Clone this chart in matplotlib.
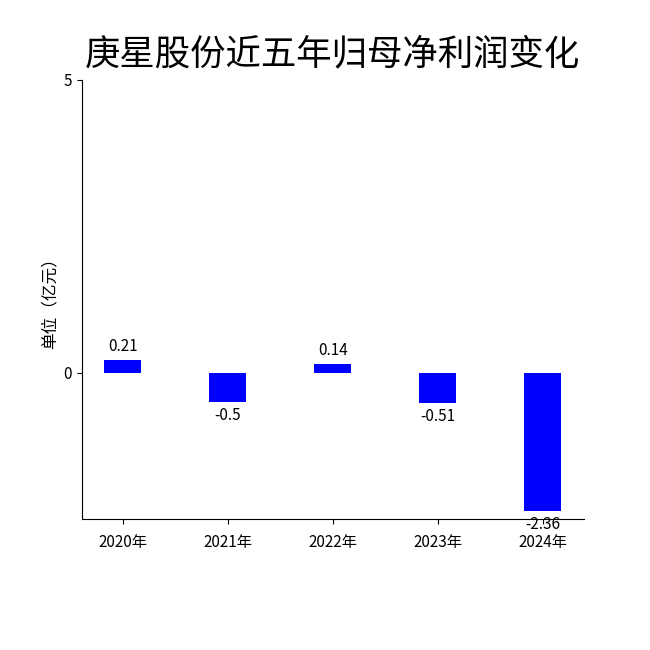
import matplotlib as mpl
mpl.use("Agg")
import matplotlib.pyplot as plt

plt.rcParams['font.family'] = ['Noto Sans CJK SC', 'DejaVu Sans']
plt.rcParams['axes.unicode_minus'] = False

years = ["2020年", "2021年", "2022年", "2023年", "2024年"]
profit = [0.21, -0.5, 0.14, -0.51, -2.36]

fig = plt.figure(figsize=(6.5, 6.5), dpi=100)
ax = fig.add_axes([0.126, 0.2015, 0.772, 0.6755])

x = range(len(years))
bars = ax.bar(x, profit, width=0.35, color="blue")

for b, v in zip(bars, profit):
    if v >= 0:
        ax.annotate(str(v), (b.get_x() + b.get_width() / 2, v), xytext=(0, 4),
                    textcoords="offset points", ha="center", va="bottom", fontsize=11)
    else:
        ax.annotate(str(v), (b.get_x() + b.get_width() / 2, v), xytext=(0, -4),
                    textcoords="offset points", ha="center", va="top", fontsize=11)

ax.set_xticks(list(x))
ax.set_xticklabels(years, fontsize=11)
ax.tick_params(axis='x', pad=7)
ax.set_yticks([0, 5])
ax.set_yticklabels(["0", "5"], fontsize=11)
ax.set_ylim(-2.5, 5)
ax.set_xlim(-0.39, 4.39)
ax.set_ylabel("单位（亿元）", fontsize=12, fontweight="light")
ax.spines['top'].set_visible(False)
ax.spines['right'].set_visible(False)

fig.text(0.512, 0.916, "庚星股份近五年归母净利润变化", ha="center", va="center", fontsize=25.5)

plt.savefig("out.png")
